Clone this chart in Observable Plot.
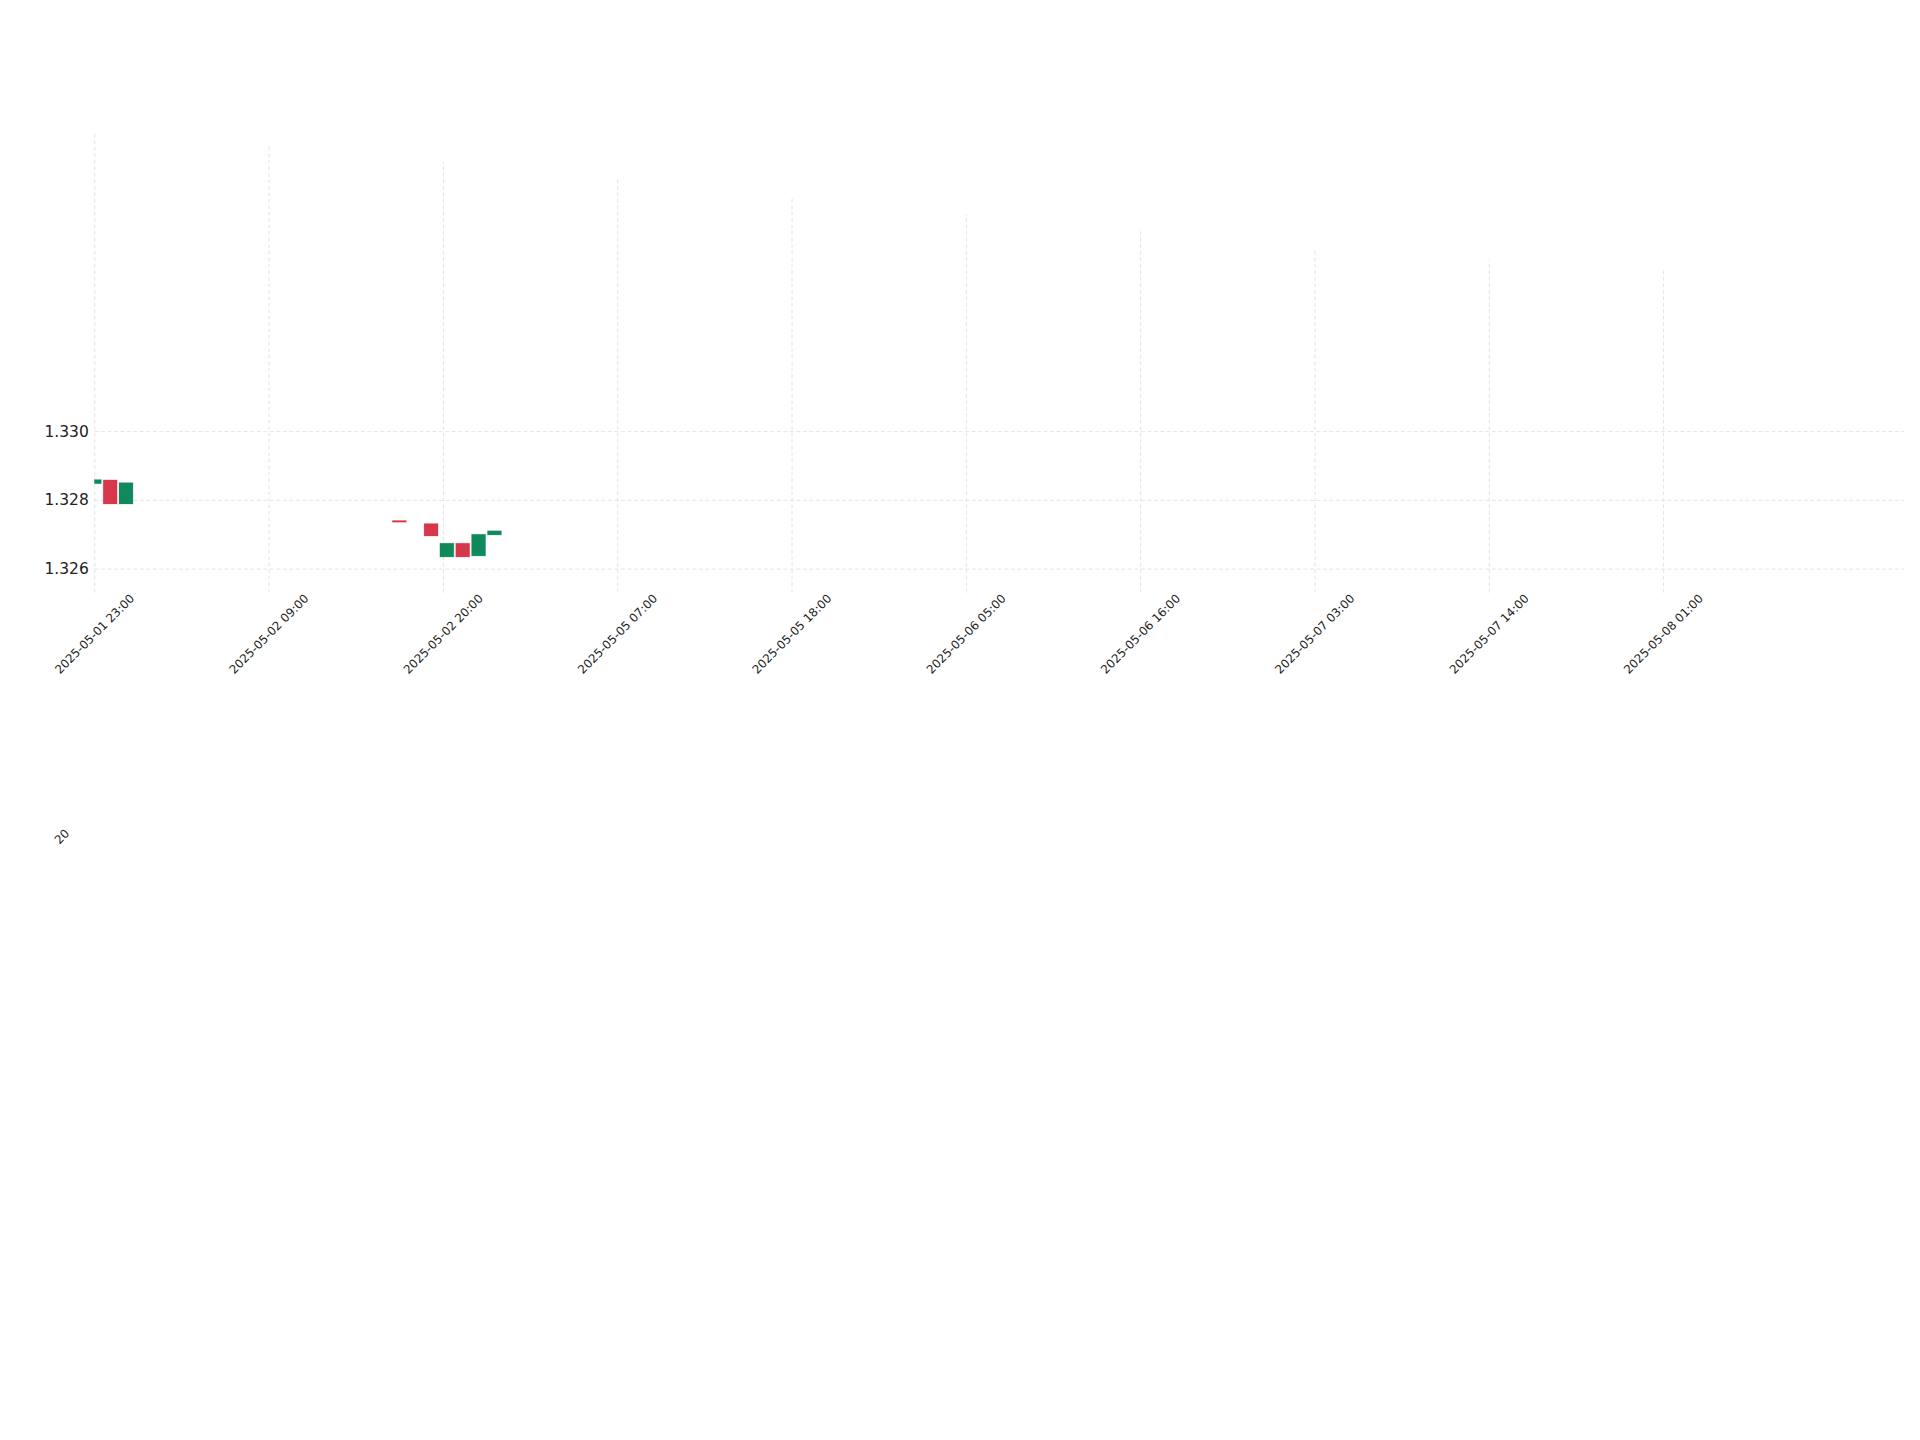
<!DOCTYPE html>
<html>
<head>
<meta charset="utf-8">
<script src="https://cdn.jsdelivr.net/npm/d3@7"></script>
<script src="https://cdn.jsdelivr.net/npm/@observablehq/plot@0.6"></script>
<style>
  html, body { margin: 0; padding: 0; background: #ffffff; }
  #chart { position: absolute; left: 0; top: 0; }
</style>
</head>
<body>
<div id="chart"></div>
<script>
// ---- data ----
const candleTimes = ["2025-05-01 23:00","2025-05-02 00:00","2025-05-02 01:00","2025-05-02 17:00","2025-05-02 19:00","2025-05-02 20:00","2025-05-02 21:00","2025-05-02 22:00","2025-05-02 23:00"];
const candleSlot  = [0, 1, 2, 19.25, 21.25, 22.25, 23.25, 24.25, 25.25];
const opens  = [1.32847, 1.32858, 1.32788, 1.32740, 1.32731, 1.32634, 1.32674, 1.32637, 1.32698];
const closes = [1.32859, 1.32788, 1.32850, 1.32735, 1.32695, 1.32674, 1.32634, 1.32700, 1.32710];

const tickSlots  = [0, 11, 22, 33, 44, 55, 66, 77, 88, 99];
const tickLabels = ["2025-05-01 23:00","2025-05-02 09:00","2025-05-02 20:00","2025-05-05 07:00","2025-05-05 18:00","2025-05-06 05:00","2025-05-06 16:00","2025-05-07 03:00","2025-05-07 14:00","2025-05-08 01:00"];
const gridTops   = [1.33870, 1.33829, 1.33783, 1.33733, 1.33681, 1.33631, 1.33582, 1.33530, 1.33498, 1.33474];

const yTicks  = [1.326, 1.328, 1.330];
const xDomain = [0, 114.2];
const yDomain = [1.3253, 1.3387];
const strayLabel = ["20"];

// ---- tables built from the arrays ----
const candles = candleTimes.map((t, i) => ({time: t, slot: candleSlot[i], open: opens[i], close: closes[i]}));
const ticks = tickSlots.map((s, i) => ({slot: s, label: tickLabels[i], top: gridTops[i]}));

const UP = "#10895d", DOWN = "#d6374b", GRID = "#e4e4e4";
const half = 0.44;

const chart = Plot.plot({
  width: 1920,
  height: 900,
  marginLeft: 94.3,
  marginRight: 16,
  marginTop: 132,
  marginBottom: 307.3,
  style: {fontFamily: "DejaVu Sans", background: "#ffffff", color: "#222"},
  x: {type: "linear", domain: xDomain, axis: null},
  y: {domain: yDomain, axis: null},
  marks: [
    Plot.ruleY(yTicks, {stroke: GRID, strokeWidth: 1, strokeDasharray: "4,2.5"}),
    Plot.ruleX(ticks, {x: "slot", y1: () => yDomain[0], y2: "top", stroke: GRID, strokeWidth: 1, strokeDasharray: "4,2.5"}),
    Plot.rectY(candles, {
      x1: d => d.slot - half,
      x2: d => d.slot + half,
      y1: "open",
      y2: "close",
      fill: d => d.close >= d.open ? UP : DOWN,
      stroke: d => d.close >= d.open ? UP : DOWN,
      strokeOpacity: 0.25,
      strokeWidth: 1,
      clip: true
    }),
    Plot.axisY(yTicks, {tickSize: 0, tickPadding: 6, tickFormat: d3.format(".3f"), fontSize: 15.5, fill: "#222"}),
    Plot.text(ticks, {
      x: "slot", text: "label", frameAnchor: "bottom",
      rotate: -45, textAnchor: "middle", lineAnchor: "middle",
      dy: 41, fontSize: 11.8, fill: "#222"
    }),
    Plot.text(strayLabel, {
      x: () => tickSlots[0], text: d => d, frameAnchor: "bottom",
      rotate: -45, textAnchor: "start", lineAnchor: "middle",
      dx: -38, dy: 249, fontSize: 11.8, fill: "#222"
    })
  ]
});
document.getElementById("chart").appendChild(chart);
</script>
</body>
</html>
